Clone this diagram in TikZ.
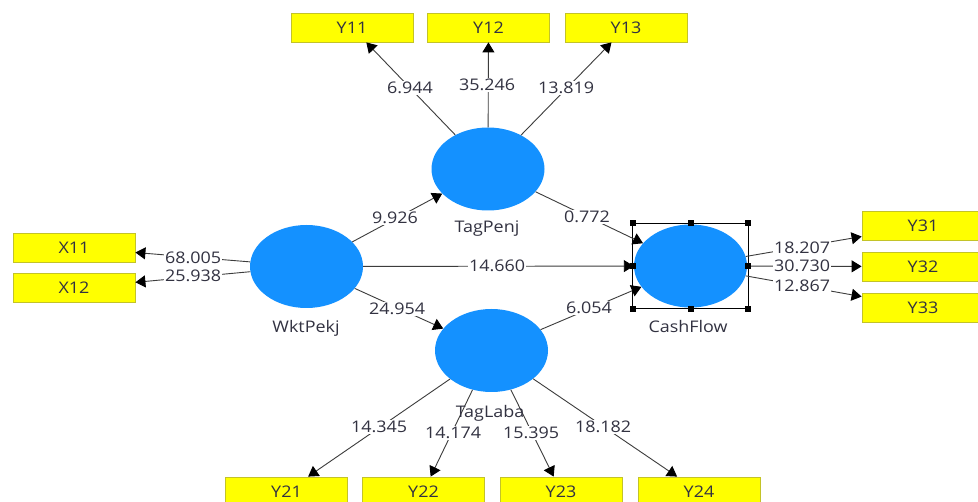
\documentclass[tikz,border=0pt]{standalone}
\usepackage{fontspec}
\setmainfont{Open Sans}[FakeStretch=1.12]
\usetikzlibrary{shapes.geometric,arrows.meta,calc}
\definecolor{lvblue}{RGB}{20,145,255}
\definecolor{boxyel}{RGB}{255,255,0}
\definecolor{boxedge}{RGB}{195,195,40}
\definecolor{txtc}{RGB}{50,50,65}
\definecolor{edgegray}{RGB}{60,60,60}
\tikzset{
  lv/.style={ellipse, fill=lvblue, minimum width=113, minimum height=83, inner sep=0pt},
  ind/.style={rectangle, fill=boxyel, draw=boxedge, line width=0.8pt, minimum width=122, minimum height=29, inner sep=0pt, text=txtc, font=\fontsize{16}{19}\selectfont},
  lbl/.style={fill=white, inner sep=1pt, text=txtc, font=\fontsize{16}{19}\selectfont},
  lvname/.style={inner sep=0pt, text=txtc, font=\fontsize{16}{19}\selectfont},
  arr/.style={draw=edgegray, line width=0.9pt, -{Triangle[length=10pt,width=12pt,color=black]}},
  handle/.style={fill=black, inner sep=0pt, minimum size=6pt, rectangle},
  selbox/.style={draw=black, line width=0.9pt}
}
\begin{document}
\begin{tikzpicture}[x=1pt,y=-1pt]
\useasboundingbox (0,0) rectangle (978,502);
\clip (0,0) rectangle (978,502);
\fill[white] (0,0) rectangle (978,502);

% latent variables
\node[lv] (wp) at (306.5,266.5) {};
\node[lv] (tp) at (488,169) {};
\node[lv] (tl) at (491.5,350.5) {};
\node[lv] (cf) at (690.5,266) {};

% indicators
\node[ind] (y11) at (352,27.5) {Y11};
\node[ind] (y12) at (488.5,27.5) {Y12};
\node[ind] (y13) at (626,27.5) {Y13};
\node[ind] (x11) at (74,247.5) {X11};
\node[ind] (x12) at (74,288) {X12};
\node[ind] (y31) at (923,226) {Y31};
\node[ind] (y32) at (923,266.5) {Y32};
\node[ind] (y33) at (923,307.5) {Y33};
\node[ind] (y21) at (286.5,491.5) {Y21};
\node[ind] (y22) at (423.5,491.5) {Y22};
\node[ind] (y23) at (561,491.5) {Y23};
\node[ind] (y24) at (699,491.5) {Y24};

% selection frame around CashFlow
\coordinate (snw) at ([shift={(-1,-1)}]cf.west |- cf.north);
\coordinate (sse) at ([shift={(1,1)}]cf.east |- cf.south);
\draw[selbox] (snw) rectangle (sse);

% outer loadings
\draw[arr] (tp) -- (y11);
\draw[arr] (tp) -- (y12);
\draw[arr] (tp) -- (y13);
\draw[arr] (wp) -- (x11);
\draw[arr] (wp) -- (x12);
\draw[arr] (cf) -- (y31);
\draw[arr] (cf) -- (y32);
\draw[arr] (cf) -- (y33);
\draw[arr] (tl) -- (y21);
\draw[arr] (tl) -- (y22);
\draw[arr] (tl) -- (y23);
\draw[arr] (tl) -- (y24);

% inner paths
\draw[arr] (wp) -- (tp);
\draw[arr] (wp) -- (tl);
\draw[arr] (wp) -- (cf);
\draw[arr] (tp) -- (cf);
\draw[arr] (tl) -- (cf);

% handles
\node[handle] (h1) at (snw) {};
\node[handle] (h2) at (sse) {};
\node[handle] (h3) at (snw -| sse) {};
\node[handle] (h4) at (snw |- sse) {};
\node[handle] (h5) at ($(snw)!0.5!(snw -| sse)$) {};
\node[handle] (h6) at ($(snw |- sse)!0.5!(sse)$) {};
\node[handle] (h7) at ($(snw)!0.5!(snw |- sse)$) {};
\node[handle] (h8) at ($(snw -| sse)!0.5!(sse)$) {};

% names
\node[lvname] (nwp) at (306,328) {WktPekj};
\node[lvname] (ntp) at (487,229) {TagPenj};
\node[lvname] (ncf) at (688,327) {CashFlow};
\node[lvname] (ntl) at (490,413) {TagLaba};

% coefficient labels
\node[lbl] (l1) at (410,88) {6.944};
\node[lbl] (l2) at (487,85) {35.246};
\node[lbl] (l3) at (566,88) {13.819};
\node[lbl] (l4) at (193,258) {68.005};
\node[lbl] (l5) at (193,276) {25.938};
\node[lbl] (l6) at (802,248) {18.207};
\node[lbl] (l7) at (802,266) {30.730};
\node[lbl] (l8) at (802,286) {12.867};
\node[lbl] (l9) at (379,427) {14.345};
\node[lbl] (l10) at (453,433) {14.174};
\node[lbl] (l11) at (531,433) {15.395};
\node[lbl] (l12) at (603,427) {18.182};
\node[lbl] (l13) at (395,218) {9.926};
\node[lbl] (l14) at (397,309) {24.954};
\node[lbl] (l15) at (497,266) {14.660};
\node[lbl] (l16) at (587,217) {0.772};
\node[lbl] (l17) at (589,308) {6.054};
\end{tikzpicture}
\end{document}
